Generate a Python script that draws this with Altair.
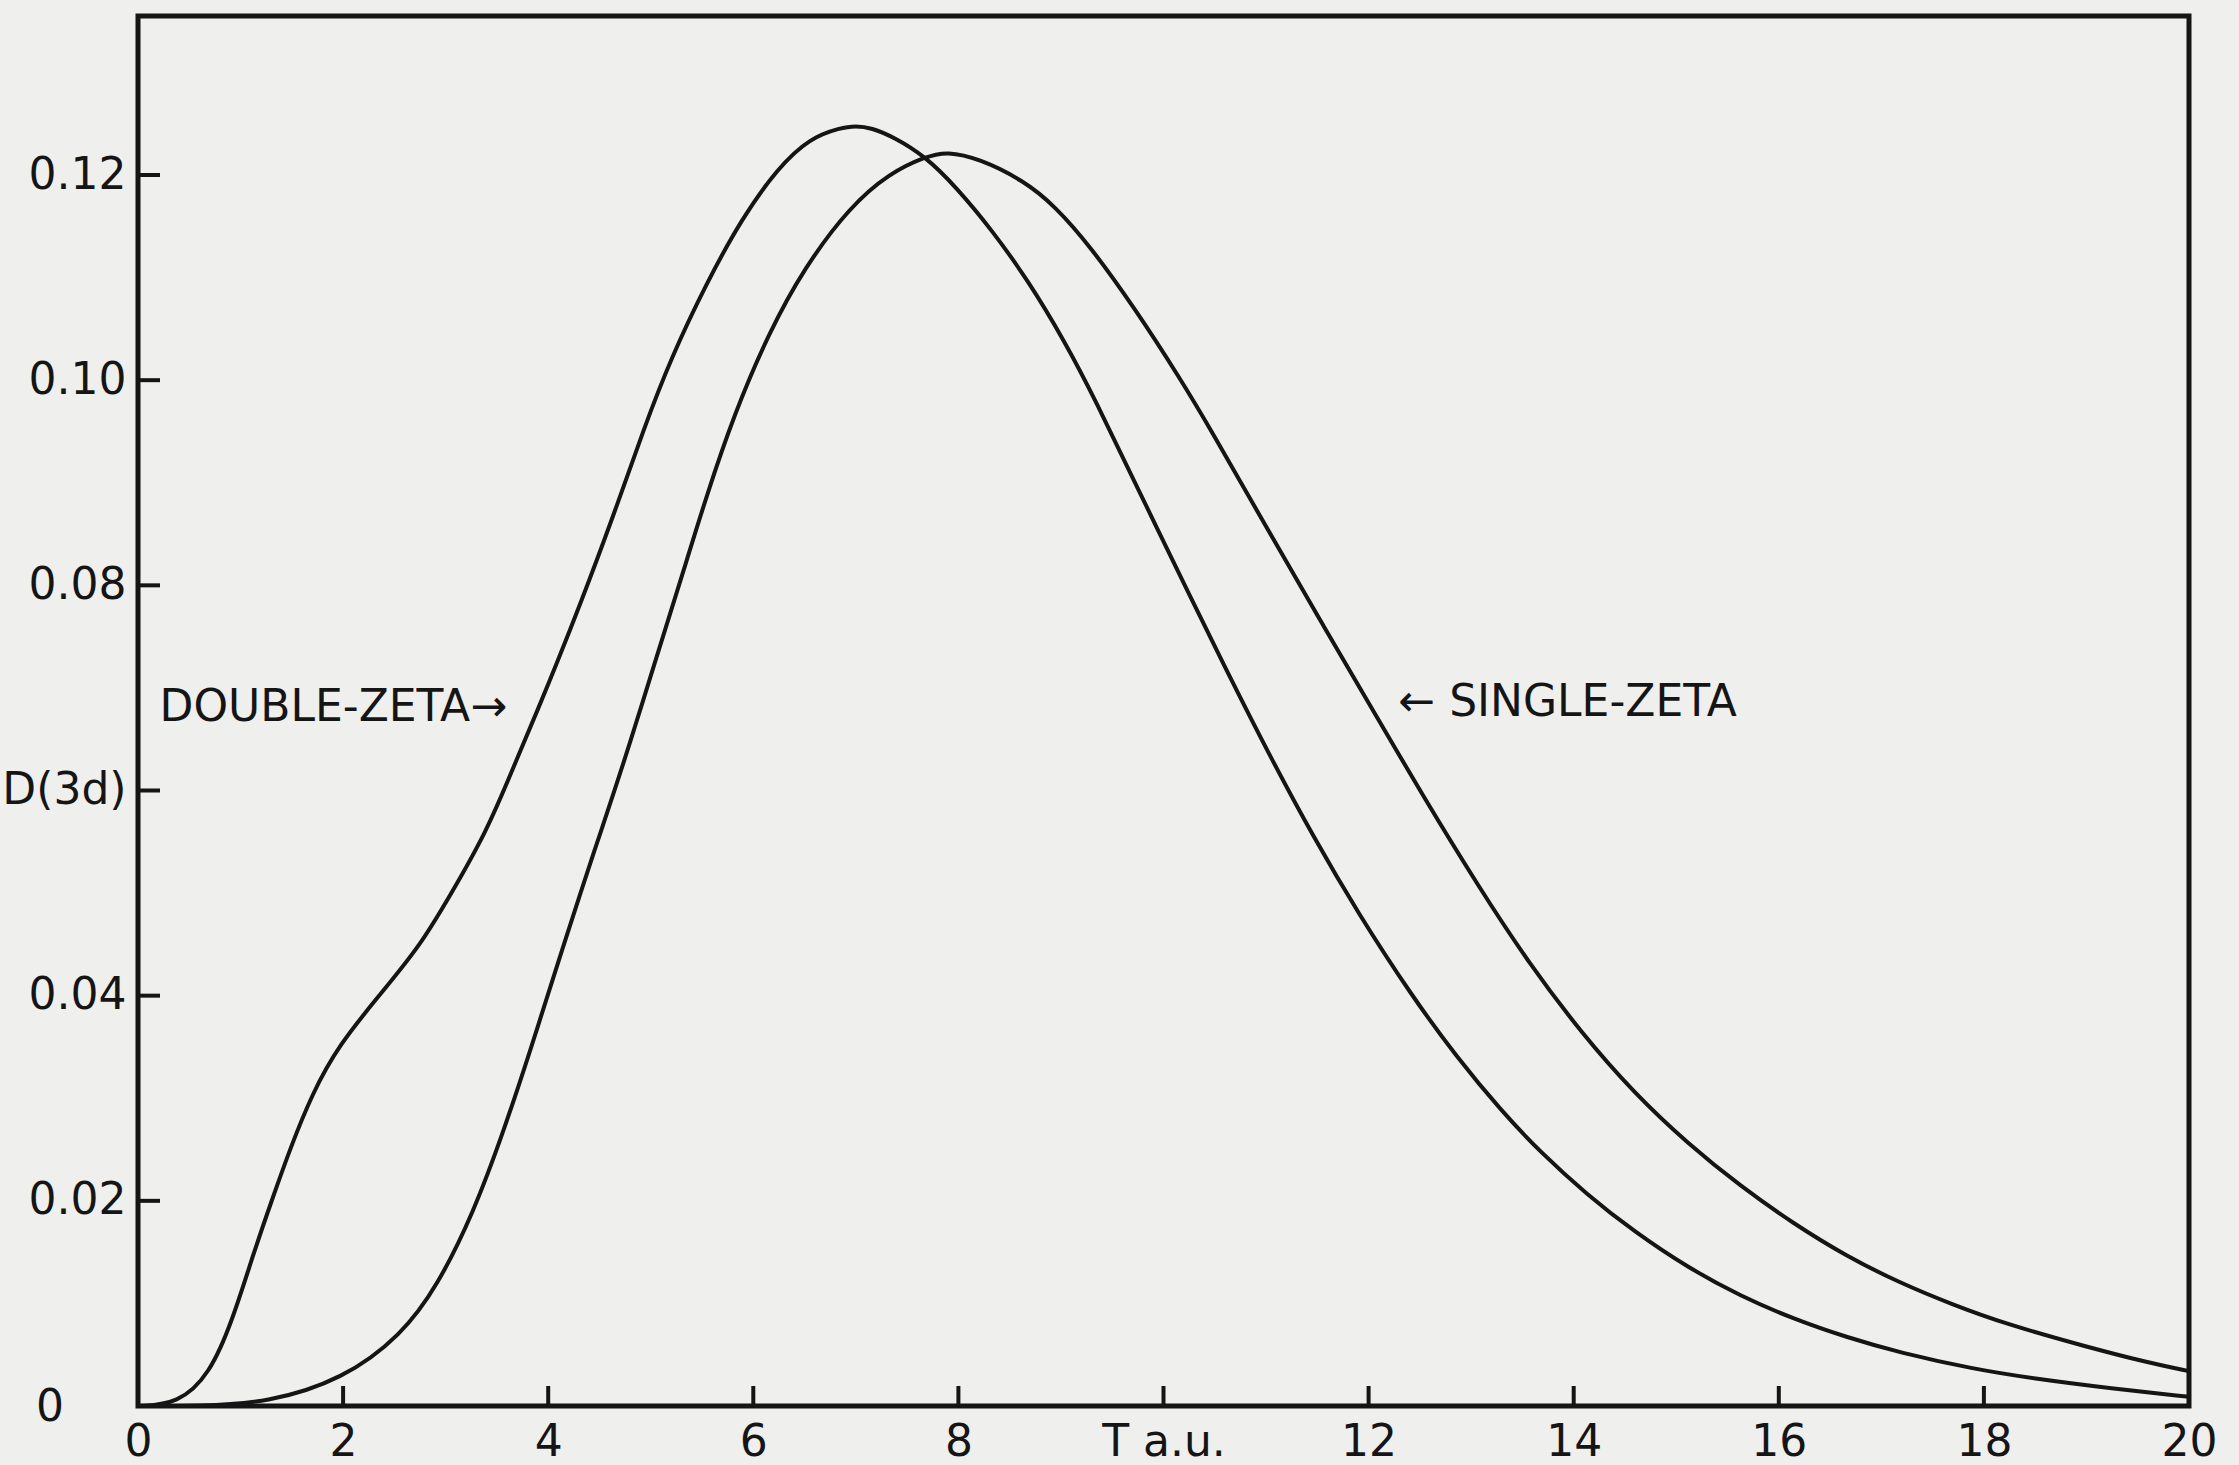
import altair as alt
import pandas as pd

# ---- data ----
x_double = [0.0, 0.39, 0.7, 0.92, 1.13, 1.31, 1.48, 1.70, 1.96, 2.35, 2.74, 3.04, 3.40, 3.65,
            3.92, 4.08, 4.31, 4.63, 4.94, 5.2, 5.54, 5.89, 6.24, 6.55, 6.85, 7.0, 7.15, 7.37,
            7.68, 7.98, 8.33, 8.68, 9.03, 9.33, 9.77, 10.29, 10.64, 11.03, 11.46, 11.9, 12.42,
            12.86, 13.30, 13.67, 14.13, 14.59, 15.11, 15.63, 16.14, 16.66, 17.18, 17.9, 18.47,
            19.25, 20.0]
y_double = [0.0, 0.0002, 0.0031, 0.0083, 0.0150, 0.0202, 0.0250, 0.0305, 0.0352, 0.0400, 0.0447,
            0.0497, 0.0560, 0.0620, 0.0684, 0.0723, 0.0781, 0.0866, 0.0955, 0.1022, 0.1094,
            0.1158, 0.1207, 0.1236, 0.1246, 0.1248, 0.1246, 0.1237, 0.1218, 0.1188, 0.1146,
            0.1097, 0.1039, 0.0982, 0.0890, 0.0783, 0.0712, 0.0635, 0.0555, 0.0480, 0.0400,
            0.0340, 0.0287, 0.0248, 0.0206, 0.0170, 0.0135, 0.0107, 0.0085, 0.0067, 0.0052,
            0.0036, 0.0027, 0.0017, 0.0009]

x_single = [0.0, 0.6, 1.26, 2.0, 2.57, 2.92, 3.27, 3.57, 3.83, 4.05, 4.33, 4.5, 4.73, 4.92, 5.15,
            5.35, 5.54, 5.81, 6.15, 6.5, 6.94, 7.33, 7.68, 7.89, 8.2, 8.63, 8.94, 9.29, 9.72,
            10.16, 10.46, 11.03, 11.55, 12.08, 12.51, 13.08, 13.56, 14.08, 14.59, 15.11, 15.63,
            16.14, 16.66, 17.18, 17.69, 18.21, 18.99, 19.61, 20.0]
y_single = [0.0, 0.0, 0.0003, 0.0026, 0.0069, 0.0117, 0.0188, 0.0269, 0.0348, 0.0418, 0.0505,
            0.0556, 0.0625, 0.0686, 0.0760, 0.0824, 0.0886, 0.0966, 0.1046, 0.1110, 0.1169,
            0.1202, 0.1218, 0.1223, 0.1216, 0.1195, 0.1170, 0.1130, 0.1070, 0.1002, 0.0952,
            0.0852, 0.0762, 0.0672, 0.0598, 0.0505, 0.0432, 0.0363, 0.0305, 0.0256, 0.0214,
            0.0178, 0.0146, 0.0120, 0.0099, 0.0080, 0.0058, 0.0042, 0.0034]

series_names = ["DOUBLE-ZETA", "SINGLE-ZETA"]

x_axis_values = [0, 2, 4, 6, 8, 10, 12, 14, 16, 18, 20]
y_axis_values = [0.02, 0.04, 0.06, 0.08, 0.10, 0.12]
x_inner_ticks = [2, 4, 6, 8, 10, 12, 14, 16, 18]
y_inner_ticks = [0.02, 0.04, 0.06, 0.08, 0.10, 0.12]
y_zero_label = ["0"]

label_texts = ["DOUBLE-ZETA\u2192", "\u2190 SINGLE-ZETA"]
label_x = [0.21, 12.29]
label_y = [0.068, 0.0685]

# ---- tables ----
curves = pd.concat([
    pd.DataFrame({"x": x_double, "y": y_double, "series": series_names[0]}),
    pd.DataFrame({"x": x_single, "y": y_single, "series": series_names[1]}),
])
labels_df = pd.DataFrame({"x": label_x, "y": label_y, "text": label_texts})
zero_df = pd.DataFrame({"x": [0], "y": [0], "text": y_zero_label})
xt_df = pd.DataFrame({"x": x_inner_ticks})
yt_df = pd.DataFrame({"y": y_inner_ticks})

W, H = 2051, 1390
FONT = "DejaVu Sans"
INK = "#151515"
PAPER = "#efefed"

xscale = alt.Scale(domain=[0, 20], nice=False, zero=False)
yscale = alt.Scale(domain=[0, 0.1355], nice=False)

x_axis = alt.Axis(values=x_axis_values, title=None, grid=False, ticks=False, domain=False,
                  labelFontSize=44, labelFont=FONT, labelColor=INK, labelPadding=14,
                  labelFlush=False, labelOverlap=False,
                  labelExpr="datum.value == 10 ? 'T a.u.' : format(datum.value, 'd')")
y_axis = alt.Axis(values=y_axis_values, title=None, grid=False, ticks=False, domain=False,
                  labelFontSize=44, labelFont=FONT, labelColor=INK, labelPadding=12,
                  labelOverlap=False,
                  labelExpr="abs(datum.value - 0.06) < 1e-9 ? 'D(3d)' : format(datum.value, '.2f')")

lines = alt.Chart(curves).mark_line(strokeWidth=4, interpolate="basis").encode(
    x=alt.X("x:Q", scale=xscale, axis=x_axis),
    y=alt.Y("y:Q", scale=yscale, axis=y_axis),
    detail="series:N",
    color=alt.value(INK),
)

xticks = alt.Chart(xt_df).mark_rule(strokeWidth=4, color=INK).encode(
    x=alt.X("x:Q", scale=xscale),
    y=alt.value(H),
    y2=alt.value(H - 20),
)
yticks = alt.Chart(yt_df).mark_rule(strokeWidth=4, color=INK).encode(
    y=alt.Y("y:Q", scale=yscale),
    x=alt.value(0),
    x2=alt.value(22),
)

texts = alt.Chart(labels_df).mark_text(align="left", baseline="middle", fontSize=44,
                                       font=FONT, color=INK).encode(
    x=alt.X("x:Q", scale=xscale),
    y=alt.Y("y:Q", scale=yscale),
    text="text:N",
)

zero_text = alt.Chart(zero_df).mark_text(align="center", baseline="middle", fontSize=44,
                                         font=FONT, color=INK, dx=-88, dy=2).encode(
    x=alt.X("x:Q", scale=xscale),
    y=alt.Y("y:Q", scale=yscale),
    text="text:N",
)

chart = alt.layer(lines, xticks, yticks, texts, zero_text).properties(
    width=W, height=H,
    background=PAPER,
    padding={"left": 138, "top": 16, "right": 50, "bottom": 59},
    autosize=alt.AutoSizeParams(type="none"),
).configure_view(stroke=INK, strokeWidth=5, fill=PAPER, clip=False)

chart.save("out.html", embed_options={"renderer": "svg", "actions": False})
